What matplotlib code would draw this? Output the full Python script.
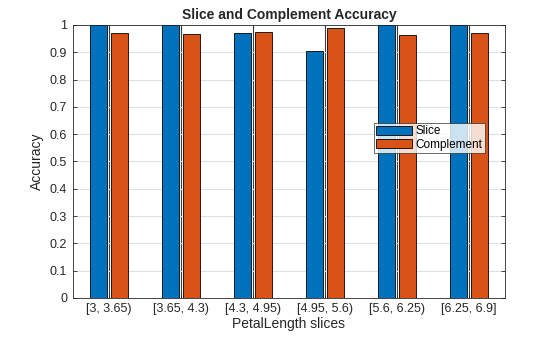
import numpy as np
import matplotlib.pyplot as plt

plt.rcParams['font.family'] = ['Liberation Sans', 'DejaVu Sans']

slices = ["[3, 3.65)", "[3.65, 4.3)", "[4.3, 4.95)", "[4.95, 5.6)", "[5.6, 6.25)", "[6.25, 6.9]"]
slice_acc = [1.0, 1.0, 0.970, 0.904, 1.0, 1.0]
complement_acc = [0.970, 0.967, 0.973, 0.988, 0.963, 0.970]

fig = plt.figure(figsize=(5.6, 3.37), dpi=100, facecolor="white")
ax = fig.add_axes([0.130, 0.116, 0.772, 0.810])

x = np.arange(1, len(slices) + 1)
w = 0.235
off = 0.145

ax.set_axisbelow(True)
ax.grid(axis="y", color="#e0e0e0", linewidth=0.8)
for xi in x:
    ax.axvline(xi, color="#404040", linewidth=0.8, zorder=0.5)

ax.bar(x - off, slice_acc, w, color="#0072BD", edgecolor="black", linewidth=0.6, label="Slice", zorder=2)
ax.bar(x + off, complement_acc, w, color="#D95319", edgecolor="black", linewidth=0.6, label="Complement", zorder=2)

ax.set_xlim(0.5, 6.5)
ax.set_ylim(0, 1)
ax.set_xticks(x)
ax.set_xticklabels(slices)
ax.set_yticks(np.arange(0, 1.01, 0.1))
ax.set_yticklabels(["0", "0.1", "0.2", "0.3", "0.4", "0.5", "0.6", "0.7", "0.8", "0.9", "1"])
ax.tick_params(labelsize=9, colors="#262626", direction="in", length=3, width=0.6,
               top=True, right=True, pad=4)
for s in ax.spines.values():
    s.set_color("#262626")
    s.set_linewidth(0.6)

ax.set_title("Slice and Complement Accuracy", fontsize=10, fontweight="bold", color="#262626", pad=4)
ax.set_xlabel("PetalLength slices", fontsize=10, color="#262626", labelpad=1)
ax.set_ylabel("Accuracy", fontsize=10, color="#262626", labelpad=4)

leg = ax.legend(loc="upper left", bbox_to_anchor=(374 / 560, 1 - 123 / 337),
                bbox_transform=fig.transFigure, fontsize=8.5, frameon=True, fancybox=False,
                edgecolor="#262626", borderpad=0.2, labelspacing=0.1, handlelength=3.0,
                handleheight=0.8, handletextpad=0.3, borderaxespad=0)
leg.get_frame().set_linewidth(0.6)

fig.savefig("out.png", dpi=100)
